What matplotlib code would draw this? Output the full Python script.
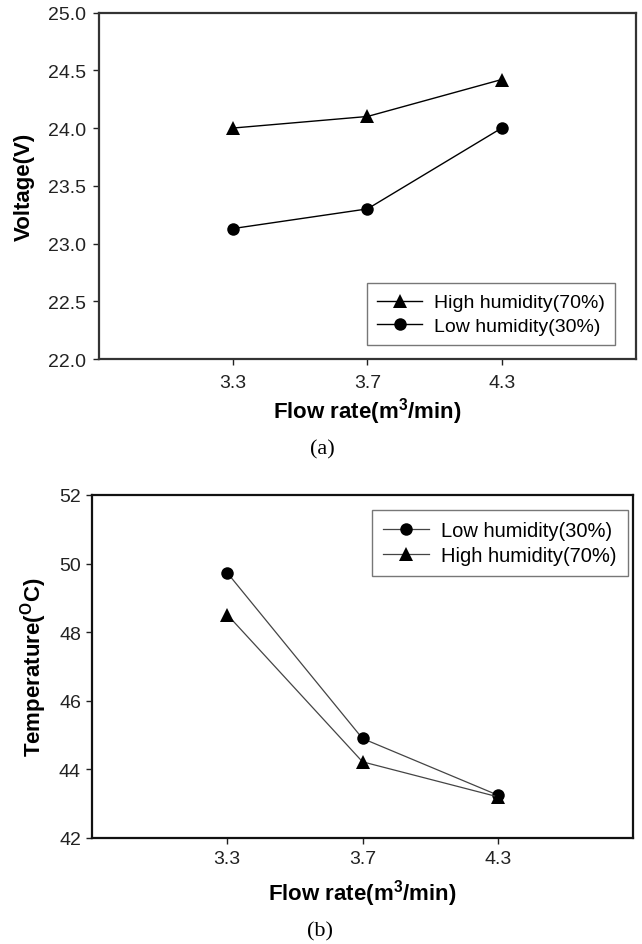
import matplotlib
matplotlib.use("Agg")
import matplotlib.pyplot as plt

# flow rate categories (m3/min)
flow_rates = ["3.3", "3.7", "4.3"]

# (a) stack voltage
voltage_high = [24.0, 24.1, 24.42]
voltage_low = [23.13, 23.30, 24.0]

# (b) stack temperature
temp_low = [49.73, 44.9, 43.25]
temp_high = [48.51, 44.22, 43.2]

plt.rcParams['font.family'] = ['Liberation Sans', 'DejaVu Sans']
plt.rcParams['mathtext.fontset'] = 'custom'
plt.rcParams['mathtext.bf'] = 'Liberation Sans:bold'
plt.rcParams['mathtext.rm'] = 'Liberation Sans:bold'
plt.rcParams['mathtext.default'] = 'bf'


def style_axes(ax, spine_color, tick_size, xpad, ypad):
    for s in ax.spines.values():
        s.set_linewidth(1.6)
        s.set_color(spine_color)
    ax.tick_params(axis='x', direction='out', length=4, width=1, pad=xpad,
                   labelsize=tick_size, colors='#222222')
    ax.tick_params(axis='y', direction='out', length=4, width=1, pad=ypad,
                   labelsize=tick_size, colors='#222222')


def add_legend(fig, ax, handles, labels, x, y, size):
    leg = ax.legend(handles, labels, loc='upper left',
                    bbox_to_anchor=(x, y), bbox_transform=fig.transFigure,
                    borderaxespad=0, fontsize=size, frameon=True, fancybox=False,
                    handlelength=2.3, handletextpad=0.6, labelspacing=0.3,
                    borderpad=0.55)
    leg.get_frame().set_edgecolor('#555555')
    leg.get_frame().set_linewidth(1.0)
    return leg


fig = plt.figure(figsize=(6.42, 9.45), dpi=100)

# ---- (a) voltage vs flow rate ----
ax1 = fig.add_axes([0.1542, 0.6190, 0.8364, 0.3667])
x = list(range(1, len(flow_rates) + 1))
h1, = ax1.plot(x, voltage_high, color='black', lw=1.0, marker='^', ms=10,
               markeredgewidth=0)
l1, = ax1.plot(x, voltage_low, color='black', lw=1.0, marker='o', ms=9,
               markeredgewidth=0)
ax1.set_xlim(0, 4)
ax1.set_ylim(22, 25)
ax1.set_xticks(x)
ax1.set_xticklabels(flow_rates)
yt1 = [22.0, 22.5, 23.0, 23.5, 24.0, 24.5, 25.0]
ax1.set_yticks(yt1)
ax1.set_yticklabels(["%.1f" % v for v in yt1])
style_axes(ax1, '#333333', 14, 7, 5)
ax1.set_xlabel(r'Flow rate(m$^{3}$/min)', fontsize=16, fontweight='bold', labelpad=3)
ax1.set_ylabel('Voltage(V)', fontsize=16, fontweight='bold', labelpad=10)
add_legend(fig, ax1, [h1, l1], ['High humidity(70%)', 'Low humidity(30%)'],
           366.7 / 642, 1 - 284 / 945, 14)
fig.text(322 / 642, 1 - 450 / 945, '(a)', ha='center', va='center',
         fontsize=16, family=['Liberation Serif'])

# ---- (b) temperature vs flow rate ----
ax2 = fig.add_axes([0.1433, 0.1122, 0.8427, 0.3630])
h2, = ax2.plot(x, temp_low, color='#444444', lw=0.9, marker='o', ms=9,
               markerfacecolor='black', markeredgewidth=0)
l2, = ax2.plot(x, temp_high, color='#444444', lw=0.9, marker='^', ms=10,
               markerfacecolor='black', markeredgewidth=0)
ax2.set_xlim(0, 4)
ax2.set_ylim(42, 52)
ax2.set_xticks(x)
ax2.set_xticklabels(flow_rates)
ax2.set_yticks([42, 44, 46, 48, 50, 52])
style_axes(ax2, '#111111', 14, 5, 4)
ax2.set_xlabel(r'Flow rate(m$^{3}$/min)', fontsize=16, fontweight='bold', labelpad=7)
ax2.set_ylabel(r'Temperature($^{O}$C)', fontsize=16, fontweight='bold', labelpad=7)
add_legend(fig, ax2, [h2, l2], ['Low humidity(30%)', 'High humidity(70%)'],
           371.7 / 642, 1 - 511 / 945, 14.5)
fig.text(320 / 642, 1 - 932 / 945, '(b)', ha='center', va='center',
         fontsize=16, family=['Liberation Serif'])

fig.savefig('out.png', dpi=100)
